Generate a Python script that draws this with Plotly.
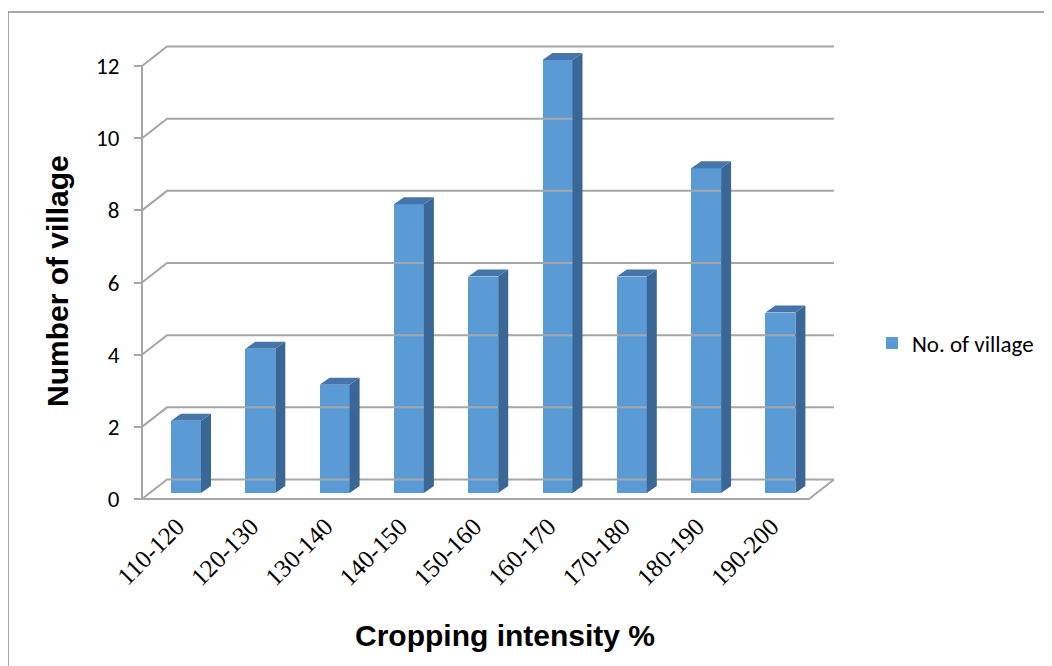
import plotly.graph_objects as go

# ---------------- data ----------------
categories = ["110-120", "120-130", "130-140", "140-150", "150-160",
              "160-170", "170-180", "180-190", "190-200"]
villages = [2, 4, 3, 8, 6, 12, 6, 9, 5]
y_ticks = [0, 2, 4, 6, 8, 10, 12]
series_name = "No. of village"
x_title = "Cropping intensity %"
y_title = "Number of village"

# ---------------- geometry / style ----------------
W, H = 1052, 666
BODY = 8                      # default page body margin of the html
L0, T0, PW, PH = 130, 30, 720, 476   # plot box in screen pixels
ML, MT = L0 - BODY, T0 - BODY
MR, MB = W - ML - PW, H - MT - PH

X0_PX, X_STEP = 186.0, 74.3      # pixel of first category, spacing
Y0_PX, Y_STEP = 499.0, 36.08     # pixel of value 0 (front), px per unit

x_range = [(L0 - X0_PX) / X_STEP, (L0 + PW - X0_PX) / X_STEP]
y_range = [(Y0_PX - (T0 + PH)) / Y_STEP, (Y0_PX - T0) / Y_STEP]

x_front = (142 - X0_PX) / X_STEP          # front vertical axis
x_right_back = (834 - X0_PX) / X_STEP     # right end of back wall
wall_dx = 25 / X_STEP
wall_dy = 19.5 / Y_STEP
bar_hw = 15 / X_STEP
bar_base = 6 / Y_STEP
side_dx = 10 / X_STEP
side_dy = 7 / Y_STEP

GRID = "#A6A6A6"
FRONT = "#5B9BD5"
SIDE = "#3A6796"
TOP = "#4575AB"
CAL = "Carlito, Calibri, Lato"


def pxx(px):
    return (px - L0) / PW


def pxy(py):
    return (T0 + PH - py) / PH


fig = go.Figure()

# back wall gridlines with left-wall diagonals
gx, gy = [], []
for t in y_ticks:
    gx += [x_front, x_front + wall_dx, x_right_back, None]
    gy += [t, t + wall_dy, t + wall_dy, None]
fig.add_trace(go.Scatter(x=gx, y=gy, mode="lines",
                         line=dict(color=GRID, width=2),
                         hoverinfo="skip", showlegend=False))

# floor front edge + right diagonal, front vertical axis line
fig.add_trace(go.Scatter(
    x=[x_front, x_right_back - wall_dx, x_right_back, None, x_front, x_front],
    y=[0, 0, wall_dy, None, 0, y_ticks[-1]],
    mode="lines", line=dict(color=GRID, width=2),
    hoverinfo="skip", showlegend=False))

# front faces of bars
fig.add_trace(go.Bar(
    x=list(range(len(categories))), y=villages, base=bar_base,
    width=2 * bar_hw, marker=dict(color=FRONT, line=dict(width=0)),
    name=series_name, showlegend=True, hoverinfo="skip"))

# side and top faces
sx, sy, tx, ty = [], [], [], []
for i, v in enumerate(villages):
    r = i + bar_hw
    l = i - bar_hw
    top = bar_base + v
    sx += [r, r + side_dx, r + side_dx, r, r, None]
    sy += [bar_base, bar_base + side_dy, top + side_dy, top, bar_base, None]
    tx += [l, r, r + side_dx, l + side_dx, l, None]
    ty += [top, top, top + side_dy, top + side_dy, top, None]
fig.add_trace(go.Scatter(x=sx, y=sy, mode="lines", fill="toself",
                         fillcolor=SIDE, line=dict(width=0, color=SIDE),
                         hoverinfo="skip", showlegend=False))
fig.add_trace(go.Scatter(x=tx, y=ty, mode="lines", fill="toself",
                         fillcolor=TOP, line=dict(width=0, color=TOP),
                         hoverinfo="skip", showlegend=False))

fig.update_layout(
    width=W, height=H,
    margin=dict(l=ML, r=MR, t=MT, b=MB),
    paper_bgcolor="white", plot_bgcolor="white",
    bargap=0,
    xaxis=dict(range=x_range, tickmode="array",
               tickvals=list(range(len(categories))), ticktext=categories,
               tickangle=-45, ticklabelshift=-9,
               showgrid=False, zeroline=False, showline=False,
               ticks="", tickfont=dict(family="Liberation Serif",
                                       size=25, color="black")),
    yaxis=dict(range=y_range, tickmode="array", tickvals=y_ticks,
               anchor="free", position=pxx(142),
               ticks="outside", ticklen=8, tickwidth=2, tickcolor=GRID,
               ticklabelstandoff=10,
               showgrid=False, zeroline=False, showline=False,
               tickfont=dict(family=CAL, size=23, color="black")),
    legend=dict(x=pxx(872), y=pxy(343), xanchor="left", yanchor="middle",
                font=dict(family=CAL, size=23, color="black"),
                bgcolor="rgba(0,0,0,0)"),
    annotations=[
        dict(text=f"<b>{x_title}</b>", xref="paper", yref="paper",
             x=pxx(505), y=pxy(635), xanchor="center", yanchor="middle",
             showarrow=False,
             font=dict(family="Liberation Sans", size=30, color="black")),
        dict(text=f"<b>{y_title}</b>", xref="paper", yref="paper",
             x=pxx(57), y=pxy(281), xanchor="center", yanchor="middle",
             textangle=-90, showarrow=False,
             font=dict(family="Liberation Sans", size=30, color="black")),
    ],
    shapes=[dict(type="rect", xref="paper", yref="paper",
                 x0=pxx(8), x1=pxx(1200), y0=pxy(800), y1=pxy(12),
                 line=dict(color="#8C8C8C", width=1.5),
                 fillcolor="rgba(0,0,0,0)", layer="below")],
)

fig.write_html("out.html")
